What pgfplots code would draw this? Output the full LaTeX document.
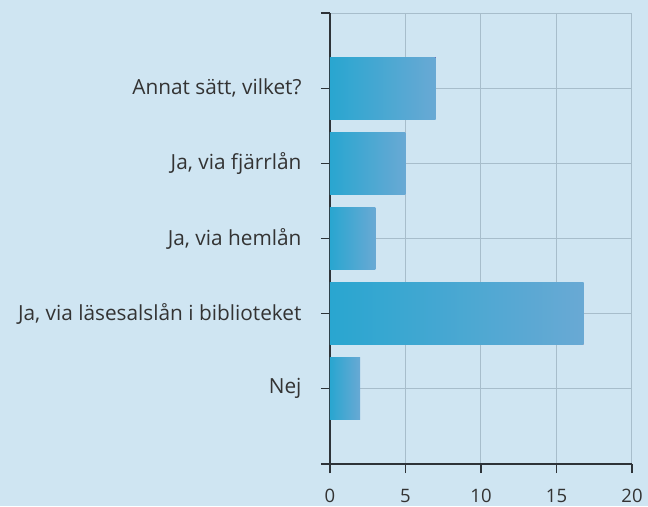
\documentclass[border=0pt]{standalone}
\usepackage{fontspec}
\setmainfont{Open Sans}
\usepackage{pgfplots}
\pgfplotsset{compat=1.18}
\definecolor{bg}{HTML}{CFE5F2}
\definecolor{barL}{HTML}{29A6D0}
\definecolor{barR}{HTML}{69A9D4}
\definecolor{gridc}{HTML}{A7BDCB}
\definecolor{axc}{HTML}{2E3338}
\definecolor{txt}{HTML}{333333}

\begin{document}
\begin{tikzpicture}
% background of the whole picture
\fill[bg] (-330bp,-42bp) rectangle (318bp,464bp);
\begin{axis}[
  at={(0,0)}, anchor=south west,
  scale only axis, width=302bp, height=451bp,
  xbar, bar width=62bp, bar shift=0pt,
  xmin=0, xmax=20, ymin=-1, ymax=5,
  xtick={0,5,...,20},
  ytick={0,...,5},
  yticklabels={Nej, {Ja, via läsesalslån i biblioteket}, {Ja, via hemlån}, {Ja, via fjärrlån}, {Annat sätt, vilket?}, {}},
  axis x line=bottom, axis y line=left,
  axis line style={axc, line width=1.3bp, -},
  x axis line style={shorten <=-9bp},
  y axis line style={shorten <=-9bp},
  tick align=outside, major tick length=9bp,
  tick style={axc, line width=1.3bp},
  xmajorgrids, ymajorgrids,
  major grid style={gridc, line width=1bp},
  ticklabel style={text=txt},
  xticklabel style={font=\fontsize{18.5bp}{20bp}\selectfont, yshift=-13bp},
  yticklabel style={font=\fontsize{20.8bp}{22bp}\selectfont, xshift=-16bp},
  /pgf/number format/assume math mode=true,
  every axis plot/.append style={draw=none, left color=barL, right color=barR},
]
% one plot per bar, so that each bar gets its own gradient
\addplot coordinates {(2,0)};
\addplot coordinates {(16.8,1)};
\addplot coordinates {(3,2)};
\addplot coordinates {(5,3)};
\addplot coordinates {(7,4)};
\end{axis}
\end{tikzpicture}
\end{document}
